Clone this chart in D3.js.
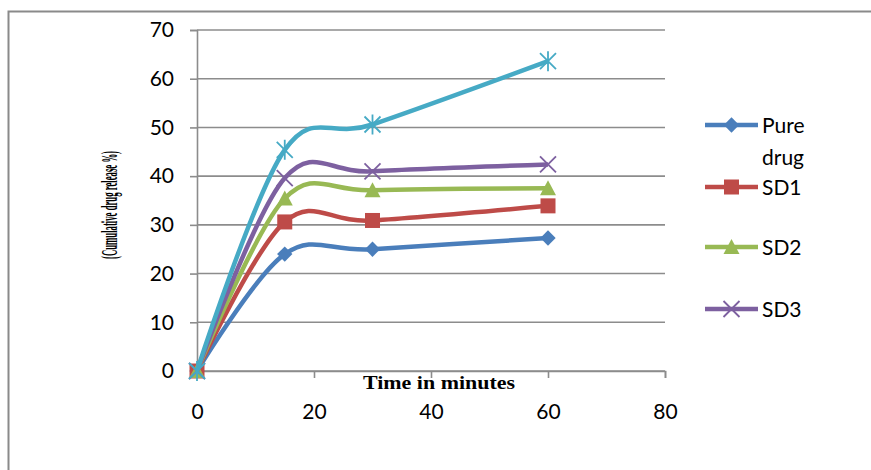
<!DOCTYPE html>
<html>
<head>
<meta charset="utf-8">
<script src="https://cdn.jsdelivr.net/npm/d3@7"></script>
<style>
  body { margin: 0; background: #fff; }
  svg text { font-family: Lato, "Open Sans", sans-serif; }
</style>
</head>
<body>
<div id="chart"></div>
<script>
// time points (minutes)
const times = [0, 15, 30, 60];

// cumulative drug release %
const pureDrug = [0, 24.0, 25.0, 27.3];
const sd1 = [0, 30.6, 30.9, 33.9];
const sd2 = [0, 35.4, 37.1, 37.5];
const sd3 = [0, 39.6, 41.0, 42.4];
const sd4 = [0, 45.4, 50.6, 63.6];

const seriesNames = ['Pure drug', 'SD1', 'SD2', 'SD3', 'SD4'];
const xTicks = [0, 20, 40, 60, 80];
const yTicks = [0, 10, 20, 30, 40, 50, 60, 70];

const W = 871, H = 470;
const colors = ['#4a7ebb', '#be4b48', '#98b954', '#7d60a0', '#46aac5'];
const markers = ['diamond', 'square', 'triangle', 'x', 'star'];
const allSeries = [pureDrug, sd1, sd2, sd3, sd4];

const svg = d3.select('#chart').append('svg')
  .attr('width', W).attr('height', H);

// outer frame (only top and left edges visible)
svg.append('path')
  .attr('d', 'M8.5,' + H + ' V11.5 H' + W)
  .attr('fill', 'none').attr('stroke', '#8a8a8a').attr('stroke-width', 2);

const x = d3.scaleLinear().domain([0, 80]).range([197, 665]);
const y = d3.scaleLinear().domain([0, 70]).range([371, 30]);

// gridlines
svg.append('g').selectAll('line')
  .data(yTicks).enter().append('line')
    .attr('x1', x(0)).attr('x2', x(80))
    .attr('y1', d => y(d)).attr('y2', d => y(d))
    .attr('stroke', '#8c8c8c').attr('stroke-width', 1.6);

// y axis
const yAxis = d3.axisLeft(y).tickValues(yTicks).tickSize(7).tickPadding(16);
const gy = svg.append('g').attr('transform', 'translate(' + x(0) + ',0)').call(yAxis);
gy.select('.domain').attr('stroke', '#8c8c8c').attr('stroke-width', 1.6);
gy.selectAll('.tick line').attr('stroke', '#8c8c8c').attr('stroke-width', 1.6);
gy.selectAll('.tick text').attr('font-size', 21).attr('fill', '#000')
  .style('font-family', 'Lato, sans-serif');

// x axis
const xAxis = d3.axisBottom(x).tickValues(xTicks).tickSize(7).tickPadding(26);
const gx = svg.append('g').attr('transform', 'translate(0,' + y(0) + ')').call(xAxis);
gx.select('.domain').attr('stroke', '#8c8c8c').attr('stroke-width', 1.6);
gx.selectAll('.tick line').attr('stroke', '#8c8c8c').attr('stroke-width', 1.6);
gx.selectAll('.tick text').attr('font-size', 21).attr('fill', '#000')
  .style('font-family', 'Lato, sans-serif');

// axis titles
svg.append('text')
  .attr('x', 439).attr('y', 389)
  .attr('text-anchor', 'middle')
  .attr('font-size', 18).attr('font-weight', 'bold')
  .style('font-family', '"Liberation Serif", serif')
  .attr('textLength', 152).attr('lengthAdjust', 'spacingAndGlyphs')
  .text('Time in minutes');

svg.append('text')
  .attr('transform', 'translate(117,205) rotate(-90)')
  .attr('text-anchor', 'middle')
  .attr('font-size', 24).attr('font-weight', 'bold')
  .style('font-family', '"Liberation Serif", serif')
  .attr('textLength', 108).attr('lengthAdjust', 'spacingAndGlyphs')
  .text('(Cumulative drug release %)');

function drawMarker(g, type, color, cx, cy) {
  if (type === 'diamond') {
    g.append('path').attr('d', d3.symbol(d3.symbolDiamond2, 150)())
      .attr('transform', 'translate(' + cx + ',' + cy + ')').attr('fill', color);
  } else if (type === 'square') {
    g.append('rect').attr('x', cx - 7.5).attr('y', cy - 7.5)
      .attr('width', 15).attr('height', 15).attr('fill', color);
  } else if (type === 'triangle') {
    g.append('path').attr('d', 'M0,-8 L8,7 L-8,7 Z')
      .attr('transform', 'translate(' + cx + ',' + cy + ')').attr('fill', color);
  } else if (type === 'x') {
    g.append('path').attr('d', 'M-8,-8 L8,8 M-8,8 L8,-8')
      .attr('transform', 'translate(' + cx + ',' + cy + ')')
      .attr('stroke', color).attr('stroke-width', 1.8).attr('fill', 'none');
  } else if (type === 'star') {
    g.append('path').attr('d', 'M-8,-8 L8,8 M-8,8 L8,-8 M0,-10 V10')
      .attr('transform', 'translate(' + cx + ',' + cy + ')')
      .attr('stroke', color).attr('stroke-width', 1.8).attr('fill', 'none');
  }
}

const line = d3.line()
  .x(d => x(d[0])).y(d => y(d[1]))
  .curve(d3.curveCardinal.tension(0));

allSeries.forEach(function(vals, i) {
  const g = svg.append('g');
  const pts = times.map((t, j) => [t, vals[j]]);
  g.append('path').datum(pts)
    .attr('d', line)
    .attr('fill', 'none')
    .attr('stroke', colors[i])
    .attr('stroke-width', 4.5)
    .attr('stroke-linejoin', 'round');
  pts.forEach(p => drawMarker(g, markers[i], colors[i], x(p[0]), y(p[1])));
});

// legend (only the first four entries are visible in the original)
const legendY = [125, 187, 247, 309];
const leg = svg.append('g');
legendY.forEach(function(ly, i) {
  leg.append('line')
    .attr('x1', 705).attr('x2', 758).attr('y1', ly).attr('y2', ly)
    .attr('stroke', colors[i]).attr('stroke-width', 4.5);
  drawMarker(leg, markers[i], colors[i], 731.5, ly);
  const t = leg.append('text')
    .attr('x', 762).attr('y', ly + 8)
    .attr('font-size', 21).attr('fill', '#000');
  if (i === 0) {
    t.append('tspan').attr('x', 762).text('Pure');
    t.append('tspan').attr('x', 762).attr('dy', 32).text('drug');
  } else {
    t.text(seriesNames[i]);
  }
});
</script>
</body>
</html>
